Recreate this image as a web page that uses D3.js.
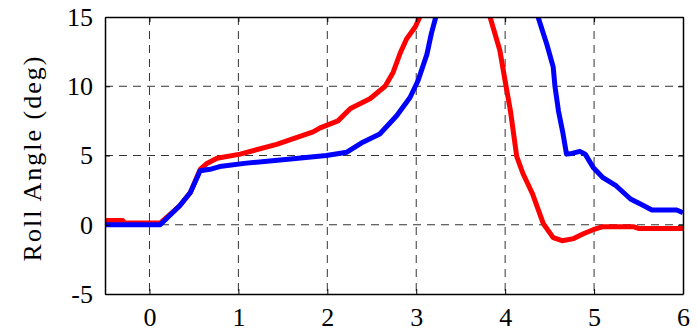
<!DOCTYPE html>
<html><head><meta charset="utf-8">
<script src="https://cdn.jsdelivr.net/npm/d3@7"></script>
<style>body{margin:0;background:#fff}svg{display:block}</style>
</head><body><svg id="c" width="698" height="335"></svg>
<script>
const xTicks = [0,1,2,3,4,5,6];
const yTicks = [-5,0,5,10,15];
const yLabel = "Roll Angle (deg)";
const redX = [-0.5,-0.3,-0.28,0.12,0.34,0.46,0.57,0.64,0.76,1.02,1.43,1.84,1.92,2.12,2.26,2.48,2.65,2.74,2.82,2.89,2.99,3.04,3.1,3.78,3.83,3.94,4.01,4.06,4.13,4.2,4.31,4.43,4.54,4.64,4.77,4.88,4.99,5.1,5.44,5.5,6.0];
const redY = [0.3,0.3,0.12,0.12,1.37,2.33,4.0,4.4,4.8,5.1,5.8,6.7,7.0,7.5,8.4,9.1,10.0,11.0,12.4,13.4,14.3,15.0,16.0,16.0,15.0,12.6,10.0,8.2,4.93,3.7,2.2,0.07,-0.93,-1.15,-1.0,-0.65,-0.36,-0.14,-0.14,-0.27,-0.27];
const blueX = [-0.5,0.12,0.34,0.46,0.57,0.68,0.79,1.09,1.5,1.99,2.22,2.4,2.59,2.78,2.93,3.02,3.12,3.17,3.22,3.28,4.32,4.37,4.47,4.54,4.56,4.6,4.65,4.69,4.75,4.84,4.9,4.99,5.1,5.25,5.41,5.56,5.65,5.93,6.0];
const blueY = [0,0,1.37,2.33,3.9,4.0,4.2,4.45,4.7,5.0,5.24,5.96,6.55,7.87,9.19,10.4,12.3,13.8,15.0,16.5,16.5,15.0,13.0,11.4,10.0,8.2,6.6,5.1,5.15,5.3,5.1,4.14,3.4,2.8,1.86,1.37,1.06,1.06,0.87];

const FONT = "'Liberation Serif','Times New Roman',Times,serif";
const svg = d3.select("#c");
const L=105,R=683,T=17,B=294;
const x = d3.scaleLinear().domain([-0.5,6]).range([L,R]);
const y = d3.scaleLinear().domain([-5,15]).range([B,T]);

svg.append("defs").append("clipPath").attr("id","clip").append("rect")
  .attr("x",L).attr("y",T).attr("width",R-L).attr("height",B-T);

// grid
const g = svg.append("g");
g.selectAll(".vg").data(xTicks.filter(d=>d<6)).enter().append("line")
  .attr("x1",d=>x(d)).attr("x2",d=>x(d)).attr("y1",T).attr("y2",B)
  .attr("stroke","#333").attr("stroke-width",1).attr("stroke-dasharray","8,6");
g.selectAll(".hg").data(yTicks.filter(d=>d>-5&&d<15)).enter().append("line")
  .attr("x1",L).attr("x2",R).attr("y1",d=>y(d)).attr("y2",d=>y(d))
  .attr("stroke","#333").attr("stroke-width",1).attr("stroke-dasharray","8,6");

// lines
const line = d3.line().x(d=>x(d[0])).y(d=>y(d[1]));
const plot = svg.append("g").attr("clip-path","url(#clip)");
plot.append("path").datum(redX.map((v,i)=>[v,redY[i]])).attr("d",line)
  .attr("fill","none").attr("stroke","#ff0000").attr("stroke-width",5).attr("stroke-linejoin","round");
plot.append("path").datum(blueX.map((v,i)=>[v,blueY[i]])).attr("d",line)
  .attr("fill","none").attr("stroke","#0000ff").attr("stroke-width",5).attr("stroke-linejoin","round");

// axes
const fmt = d=>String(d);
const xb = svg.append("g").attr("transform",`translate(0,${B})`)
  .call(d3.axisBottom(x).tickValues(xTicks).tickSizeInner(-5).tickSizeOuter(0).tickPadding(14).tickFormat(fmt));
const xt = svg.append("g").attr("transform",`translate(0,${T})`)
  .call(d3.axisTop(x).tickValues(xTicks).tickSizeInner(-5).tickSizeOuter(0).tickFormat(""));
const yl = svg.append("g").attr("transform",`translate(${L},0)`)
  .call(d3.axisLeft(y).tickValues(yTicks).tickSizeInner(-5).tickSizeOuter(0).tickPadding(12).tickFormat(fmt));
const yr = svg.append("g").attr("transform",`translate(${R},0)`)
  .call(d3.axisRight(y).tickValues(yTicks).tickSizeInner(-5).tickSizeOuter(0).tickFormat(""));
[xb,xt,yl,yr].forEach(a=>{
  a.attr("font-family",null).attr("font-size",null);
  a.select(".domain").attr("stroke","#000").attr("stroke-width",1.5);
  a.selectAll(".tick line").attr("stroke","#000");
  a.selectAll("text").style("font-family",FONT).style("font-size","26px").attr("fill","#000");
});
xb.selectAll("text").attr("dy","0.71em");

svg.append("text").attr("transform","translate(41,158) rotate(-90)")
  .attr("text-anchor","middle").style("font-family",FONT).style("font-size","26px")
  .style("letter-spacing","2px").attr("fill","#000").text(yLabel);
</script></body></html>
